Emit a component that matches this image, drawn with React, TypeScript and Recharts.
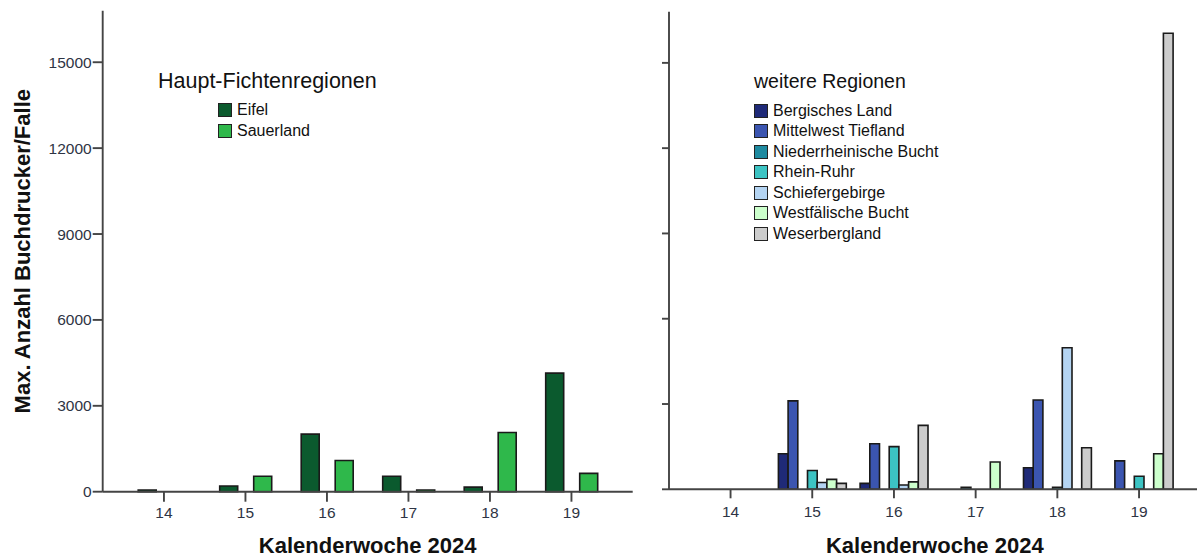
import React from 'react';
import { BarChart, Bar, XAxis, YAxis, Legend } from 'recharts';

// Kalenderwochen
const weeks = ['14', '15', '16', '17', '18', '19'];
const yTicks = [0, 3000, 6000, 9000, 12000, 15000];

// Haupt-Fichtenregionen
const eifel = [60, 200, 2010, 540, 160, 4140];
const sauerland = [null, 540, 1090, 60, 2070, 640];

// weitere Regionen
const bergischesLand = [null, 1250, 210, null, 760, null];
const mittelwestTiefland = [null, 3110, 1600, null, 3140, 1000];
const niederrheinischeBucht = [null, null, null, 70, null, null];
const rheinRuhr = [null, 660, 1500, null, 70, 460];
const schiefergebirge = [null, 240, 150, null, 4980, null];
const westfaelischeBucht = [null, 350, 260, 960, null, 1250];
const weserbergland = [null, 210, 2250, null, 1460, 16040];

const mainData = weeks.map((w, i) => ({ week: w, eifel: eifel[i], sauerland: sauerland[i] }));
const otherData = weeks.map((w, i) => ({
  week: w,
  bl: bergischesLand[i],
  mt: mittelwestTiefland[i],
  nb: niederrheinischeBucht[i],
  rr: rheinRuhr[i],
  sg: schiefergebirge[i],
  wb: westfaelischeBucht[i],
  wes: weserbergland[i],
}));

const FONT = '"Liberation Sans", Arial, sans-serif';
const AXIS = '#444';
const AXIS_W = 1.9;
const TICK_TEXT = '#2e3444';
const BAR_STROKE = '#1a1a1a';

const tickStyle = { fontSize: 15.5, fill: TICK_TEXT, fontFamily: FONT };

// legend in series order (recharts sorts by name otherwise)
function makeLegend(title: string, titleSize: number, itemIndent: number, rowHeight: number, gapAfterTitle: number, order: string[]) {
  return (props: any) => {
    const payload = [...(props.payload || [])].sort(
      (a: any, b: any) => order.indexOf(a.dataKey) - order.indexOf(b.dataKey)
    );
    return (
      <div style={{ fontFamily: FONT, color: '#111', textAlign: 'left' }}>
        <div style={{ fontSize: titleSize, lineHeight: '24px', height: 24, whiteSpace: 'nowrap' }}>{title}</div>
        <div style={{ marginTop: gapAfterTitle, paddingLeft: itemIndent }}>
          {payload.map((e: any) => (
            <div key={e.value} style={{ display: 'flex', alignItems: 'center', height: rowHeight }}>
              <span
                style={{
                  width: 14,
                  height: 14,
                  boxSizing: 'border-box',
                  background: e.color,
                  border: '1.6px solid #222',
                  marginRight: 5,
                  display: 'inline-block',
                }}
              />
              <span style={{ fontSize: 16, whiteSpace: 'nowrap' }}>{e.value}</span>
            </div>
          ))}
        </div>
      </div>
    );
  };
}

const MainLegend = makeLegend('Haupt-Fichtenregionen', 21.5, 60, 21, 7, ['eifel', 'sauerland']);
const OtherLegend = makeLegend('weitere Regionen', 19.5, 0, 20.5, 8, ['bl', 'mt', 'nb', 'rr', 'sg', 'wb', 'wes']);

export default function App() {
  return (
    <div
      style={{
        position: 'absolute',
        left: 0,
        top: 0,
        width: 1197,
        height: 557,
        overflow: 'hidden',
        background: '#fff',
        fontFamily: FONT,
      }}
    >
      <div style={{ position: 'absolute', left: 0, top: 0 }}>
        <BarChart
          width={640}
          height={557}
          data={mainData}
          margin={{ top: 10.7, right: 7.3, bottom: 0, left: 0 }}
          barSize={18}
          barGap={16}
        >
          <XAxis
            dataKey="week"
            height={65.3}
            padding={{ left: 20.5, right: 20.5 }}
            tickSize={10}
            tickMargin={5}
            tick={tickStyle}
            axisLine={{ stroke: AXIS, strokeWidth: AXIS_W }}
            tickLine={{ stroke: AXIS, strokeWidth: AXIS_W }}
            label={{
              value: 'Kalenderwoche 2024',
              position: 'insideBottom',
              offset: 4,
              style: { fontSize: 22, fontWeight: 'bold', fill: '#111', fontFamily: FONT },
            }}
          />
          <XAxis xAxisId="top" dataKey="week" orientation="top" height={0} tick={false} tickLine={false}
            axisLine={{ stroke: AXIS, strokeWidth: AXIS_W }} />
          <YAxis
            width={102.7}
            domain={[0, 16800]}
            ticks={yTicks}
            interval={0}
            tickSize={10}
            tickMargin={1}
            tick={tickStyle}
            axisLine={{ stroke: AXIS, strokeWidth: AXIS_W }}
            tickLine={{ stroke: AXIS, strokeWidth: AXIS_W }}
            label={{
              value: 'Max. Anzahl Buchdrucker/Falle',
              angle: -90,
              position: 'insideLeft',
              offset: 22,
              style: { textAnchor: 'middle', fontSize: 22, fontWeight: 'bold', fill: '#111', fontFamily: FONT },
            }}
          />
          <YAxis yAxisId="right" orientation="right" width={0} tick={false} tickLine={false}
            axisLine={{ stroke: AXIS, strokeWidth: AXIS_W }} />
          <Legend
            layout="vertical"
            align="center"
            verticalAlign="middle"
            content={MainLegend}
            wrapperStyle={{ top: 68.7, left: 158, width: 320 }}
          />
          <Bar dataKey="eifel" name="Eifel" fill="#0b5a2e" stroke={BAR_STROKE} strokeWidth={1.6} isAnimationActive={false} />
          <Bar dataKey="sauerland" name="Sauerland" fill="#2fb84b" stroke={BAR_STROKE} strokeWidth={1.6} isAnimationActive={false} />
        </BarChart>
      </div>

      <div style={{ position: 'absolute', left: 640, top: 0 }}>
        <BarChart
          width={570}
          height={557}
          data={otherData}
          margin={{ top: 11.7, right: 9.4, bottom: 0, left: 0 }}
          barSize={9.7}
          barGap={0}
        >
          <XAxis
            dataKey="week"
            height={67.7}
            padding={{ left: 20.7, right: 20.7 }}
            tickSize={9}
            tickMargin={8}
            tick={tickStyle}
            axisLine={{ stroke: AXIS, strokeWidth: AXIS_W }}
            tickLine={{ stroke: AXIS, strokeWidth: AXIS_W }}
            label={{
              value: 'Kalenderwoche 2024',
              position: 'insideBottom',
              offset: 4,
              style: { fontSize: 22, fontWeight: 'bold', fill: '#111', fontFamily: FONT },
            }}
          />
          <XAxis xAxisId="top" dataKey="week" orientation="top" height={0} tick={false} tickLine={false}
            axisLine={{ stroke: AXIS, strokeWidth: AXIS_W }} />
          <YAxis
            width={29}
            domain={[0, 16800]}
            ticks={yTicks}
            interval={0}
            tickSize={7}
            tickFormatter={() => ''}
            axisLine={{ stroke: AXIS, strokeWidth: AXIS_W }}
            tickLine={{ stroke: AXIS, strokeWidth: AXIS_W }}
          />
          <YAxis yAxisId="right" orientation="right" width={0} tick={false} tickLine={false}
            axisLine={{ stroke: AXIS, strokeWidth: AXIS_W }} />
          <Legend
            layout="vertical"
            align="center"
            verticalAlign="middle"
            content={OtherLegend}
            wrapperStyle={{ top: 68.7, left: 114, width: 300 }}
          />
          <Bar dataKey="bl" name="Bergisches Land" fill="#1f2a78" stroke={BAR_STROKE} strokeWidth={1.6} isAnimationActive={false} />
          <Bar dataKey="mt" name="Mittelwest Tiefland" fill="#3b55b0" stroke={BAR_STROKE} strokeWidth={1.6} isAnimationActive={false} />
          <Bar dataKey="nb" name="Niederrheinische Bucht" fill="#1e8aa0" stroke={BAR_STROKE} strokeWidth={1.6} isAnimationActive={false} />
          <Bar dataKey="rr" name="Rhein-Ruhr" fill="#3cc3c3" stroke={BAR_STROKE} strokeWidth={1.6} isAnimationActive={false} />
          <Bar dataKey="sg" name="Schiefergebirge" fill="#b4d4f2" stroke={BAR_STROKE} strokeWidth={1.6} isAnimationActive={false} />
          <Bar dataKey="wb" name="Westfälische Bucht" fill="#ccffcc" stroke={BAR_STROKE} strokeWidth={1.6} isAnimationActive={false} />
          <Bar dataKey="wes" name="Weserbergland" fill="#cccccc" stroke={BAR_STROKE} strokeWidth={1.6} isAnimationActive={false} />
        </BarChart>
      </div>
    </div>
  );
}
